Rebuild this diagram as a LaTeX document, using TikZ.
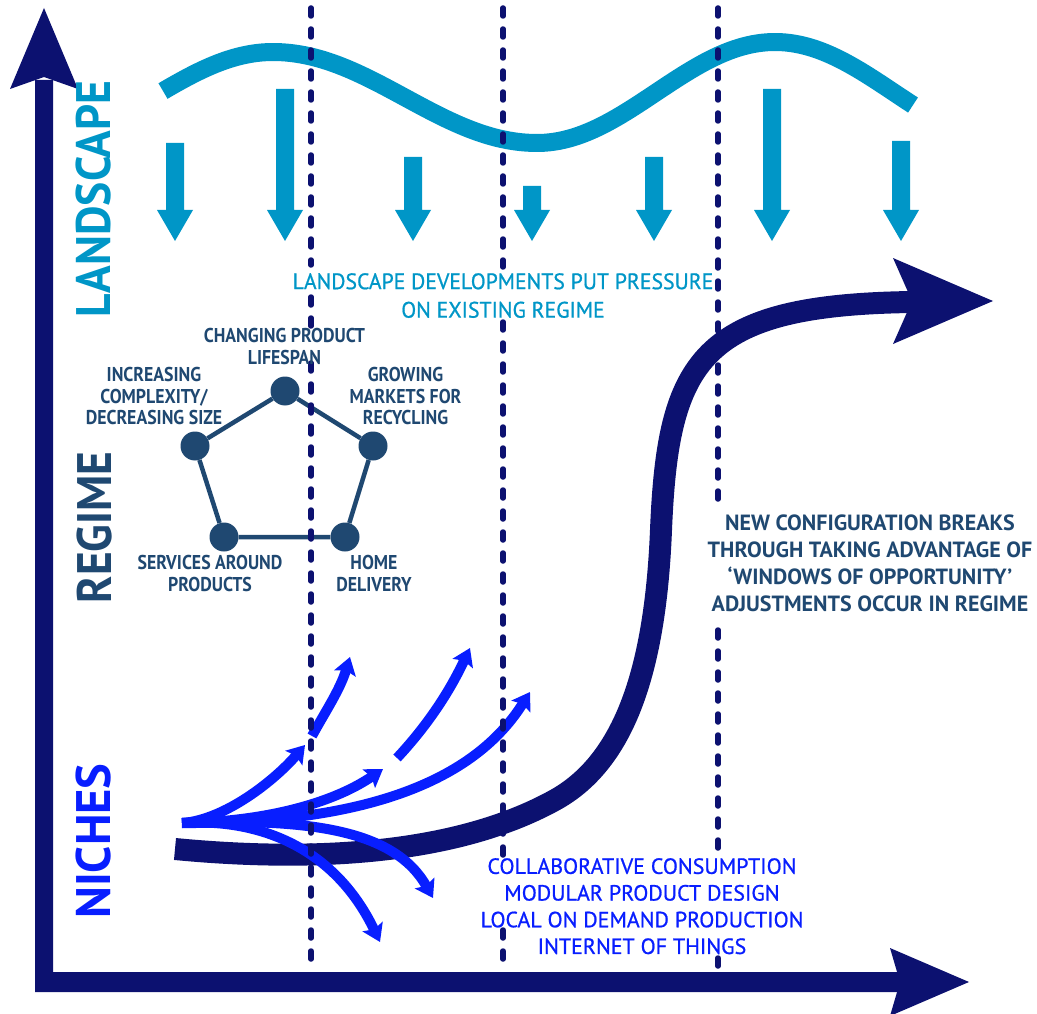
\documentclass[tikz,border=0pt]{standalone}
\usepackage{fontspec}
\setmainfont{PT Sans}
\newfontfamily\pentfont{PT Sans}[FakeStretch=0.89]
\newfontfamily\pressurefont{PT Sans}[FakeStretch=0.97, FakeBold=0.8]
\newfontfamily\notefont{PT Sans}[FakeBold=0.8]
\usetikzlibrary{arrows.meta}

\definecolor{axisnavy}{RGB}{12,17,112}
\definecolor{landblue}{RGB}{0,150,199}
\definecolor{regimeslate}{RGB}{31,72,113}
\definecolor{nicheblue}{RGB}{8,30,255}

\tikzset{
  dashline/.style={axisnavy, line width=5.5pt, line cap=round, dash pattern=on 8pt off 13pt},
  nichearrow/.style={nicheblue, line width=10pt, -{Stealth[length=17pt,width=22pt,inset=3pt]}},
  pentnode/.style={circle, fill=regimeslate, minimum size=29pt, inner sep=0pt},
  pentedge/.style={regimeslate, line width=4.5pt},
  pentlabel/.style={text=regimeslate, align=center, inner sep=0pt, anchor=north,
    font=\pentfont\bfseries\fontsize{20}{21.7}\selectfont},
  axislabel/.style={rotate=90, inner sep=0pt, font=\bfseries\fontsize{48.5}{50}\selectfont},
}

\begin{document}
\begin{tikzpicture}[x=1pt, y=-1pt]
\useasboundingbox (0,0) rectangle (1037,1014);

% landscape wave
\draw[landblue, line width=18pt] plot[domain=163:913, samples=160, variable=\t]
  (\t, {(\t<273) ? (97.5-45.5*cos((\t-273)/242*180)) : ((\t<537) ? (97.5-45.5*cos((\t-273)/264*180)) : (92.5+50.5*cos((\t-537)/238*180)))});

% landscape pressure arrows
\foreach \cx/\ty in {175/143, 285/89, 413/157, 532/186, 654/157, 772/89, 901/141}
  \fill[landblue] (\cx-9,\ty) -- (\cx+9,\ty) -- (\cx+9,210) -- (\cx+18,210)
    -- (\cx,241) -- (\cx-18,210) -- (\cx-9,210) -- cycle;

% axes
\fill[axisnavy] (35,992) -- (35,80) -- (53,80) -- (53,972) -- (902,972) -- (902,992) -- cycle;
\fill[axisnavy] (44,8) -- (78,89) -- (44,77) -- (10,89) -- cycle;
\fill[axisnavy] (969,982) -- (890,948) -- (900,982) -- (890,1016) -- cycle;

% transition curve
\draw[axisnavy, line width=22pt] (175,849) .. controls (300,861) and (450,858) .. (555,800)
  .. controls (620,764) and (655,680) .. (661,530)
  .. controls (668,360) and (700,305) .. (912,302);
\fill[axisnavy] (993,301) -- (893,258) -- (912,301) -- (893,344) -- cycle;

% niche experiments
\coordinate (nroot) at (182,823);
\coordinate (aend) at (305,745);
\coordinate (astart) at (312,736);
\coordinate (atip) at (350,657);
\coordinate (bend) at (383,769);
\coordinate (bstart) at (397,758);
\coordinate (btip) at (470,648);
\coordinate (ctip) at (530,692);
\coordinate (dtip) at (433,898);
\coordinate (etip) at (380,942);
\draw[nichearrow] (nroot) .. controls (225,820) and (275,780) .. (aend);
\draw[nichearrow] (astart) .. controls (325,712) and (340,690) .. (atip);
\draw[nichearrow] (nroot) .. controls (260,822) and (330,805) .. (bend);
\draw[nichearrow] (bstart) .. controls (425,728) and (448,695) .. (btip);
\draw[nichearrow] (nroot) .. controls (350,824) and (470,788) .. (ctip);
\draw[nichearrow] (nroot) .. controls (310,818) and (395,830) .. (dtip);
\draw[nichearrow] (nroot) .. controls (260,818) and (335,848) .. (etip);

% regime pentagon
\node[pentnode] (lifespan) at (285,391) {};
\node[pentnode] (complexity) at (195,446) {};
\node[pentnode] (recycling) at (373,446) {};
\node[pentnode] (services) at (224,537) {};
\node[pentnode] (delivery) at (345,537) {};
\draw[pentedge] (lifespan) -- (recycling) -- (delivery) -- (services) -- (complexity) -- (lifespan);

% time period separators
\draw[dashline] (311,8) -- (311,265);
\draw[dashline] (311,297) -- (311,328);
\draw[dashline] (311,363) -- (311,967);
\draw[dashline] (503,8) -- (503,267);
\draw[dashline] (503,322) -- (503,855);
\draw[dashline] (503,930) -- (503,967);
\draw[dashline] (718,8) -- (718,503);
\draw[dashline] (718,630) -- (718,850);
\draw[dashline] (718,958) -- (718,967);

% level labels
\node[axislabel, text=landblue] (landscape) at (94,199) {\scalebox{0.94}[1]{LANDSCAPE}};
\node[axislabel, text=regimeslate] (regime) at (94.5,527.5) {\scalebox{0.935}[1]{REGIME}};
\node[axislabel, text=nicheblue] (niches) at (93.5,841) {NICHES};

% pentagon labels
\node[pentlabel] (lifespanlabel) at (284.5,328) {CHANGING PRODUCT\\LIFESPAN};
\node[pentlabel] (complexitylabel) at (154,367) {INCREASING\\COMPLEXITY/\\DECREASING SIZE};
\node[pentlabel] (recyclinglabel) at (405.5,367) {GROWING\\MARKETS FOR\\RECYCLING};
\node[pentlabel] (serviceslabel) at (210,555) {SERVICES AROUND\\PRODUCTS};
\node[pentlabel] (deliverylabel) at (374,555) {HOME\\DELIVERY};

% annotations
\node[text=landblue, align=center, inner sep=0pt, anchor=north,
  font=\pressurefont\fontsize{22.4}{28.5}\selectfont] (pressure) at (503,273)
  {LANDSCAPE DEVELOPMENTS PUT PRESSURE\\ON EXISTING REGIME};
\node[text=regimeslate, align=center, inner sep=0pt, anchor=north,
  font=\bfseries\fontsize{22}{27}\selectfont] (breakthrough) at (870,515)
  {NEW CONFIGURATION BREAKS\\THROUGH TAKING ADVANTAGE OF\\‘WINDOWS OF OPPORTUNITY’\\ADJUSTMENTS OCCUR IN REGIME};
\node[text=nicheblue, align=center, inner sep=0pt, anchor=north,
  font=\notefont\fontsize{22}{26.7}\selectfont] (nichelist) at (642,858)
  {COLLABORATIVE CONSUMPTION\\MODULAR PRODUCT DESIGN\\LOCAL ON DEMAND PRODUCTION\\INTERNET OF THINGS};
\end{tikzpicture}
\end{document}
